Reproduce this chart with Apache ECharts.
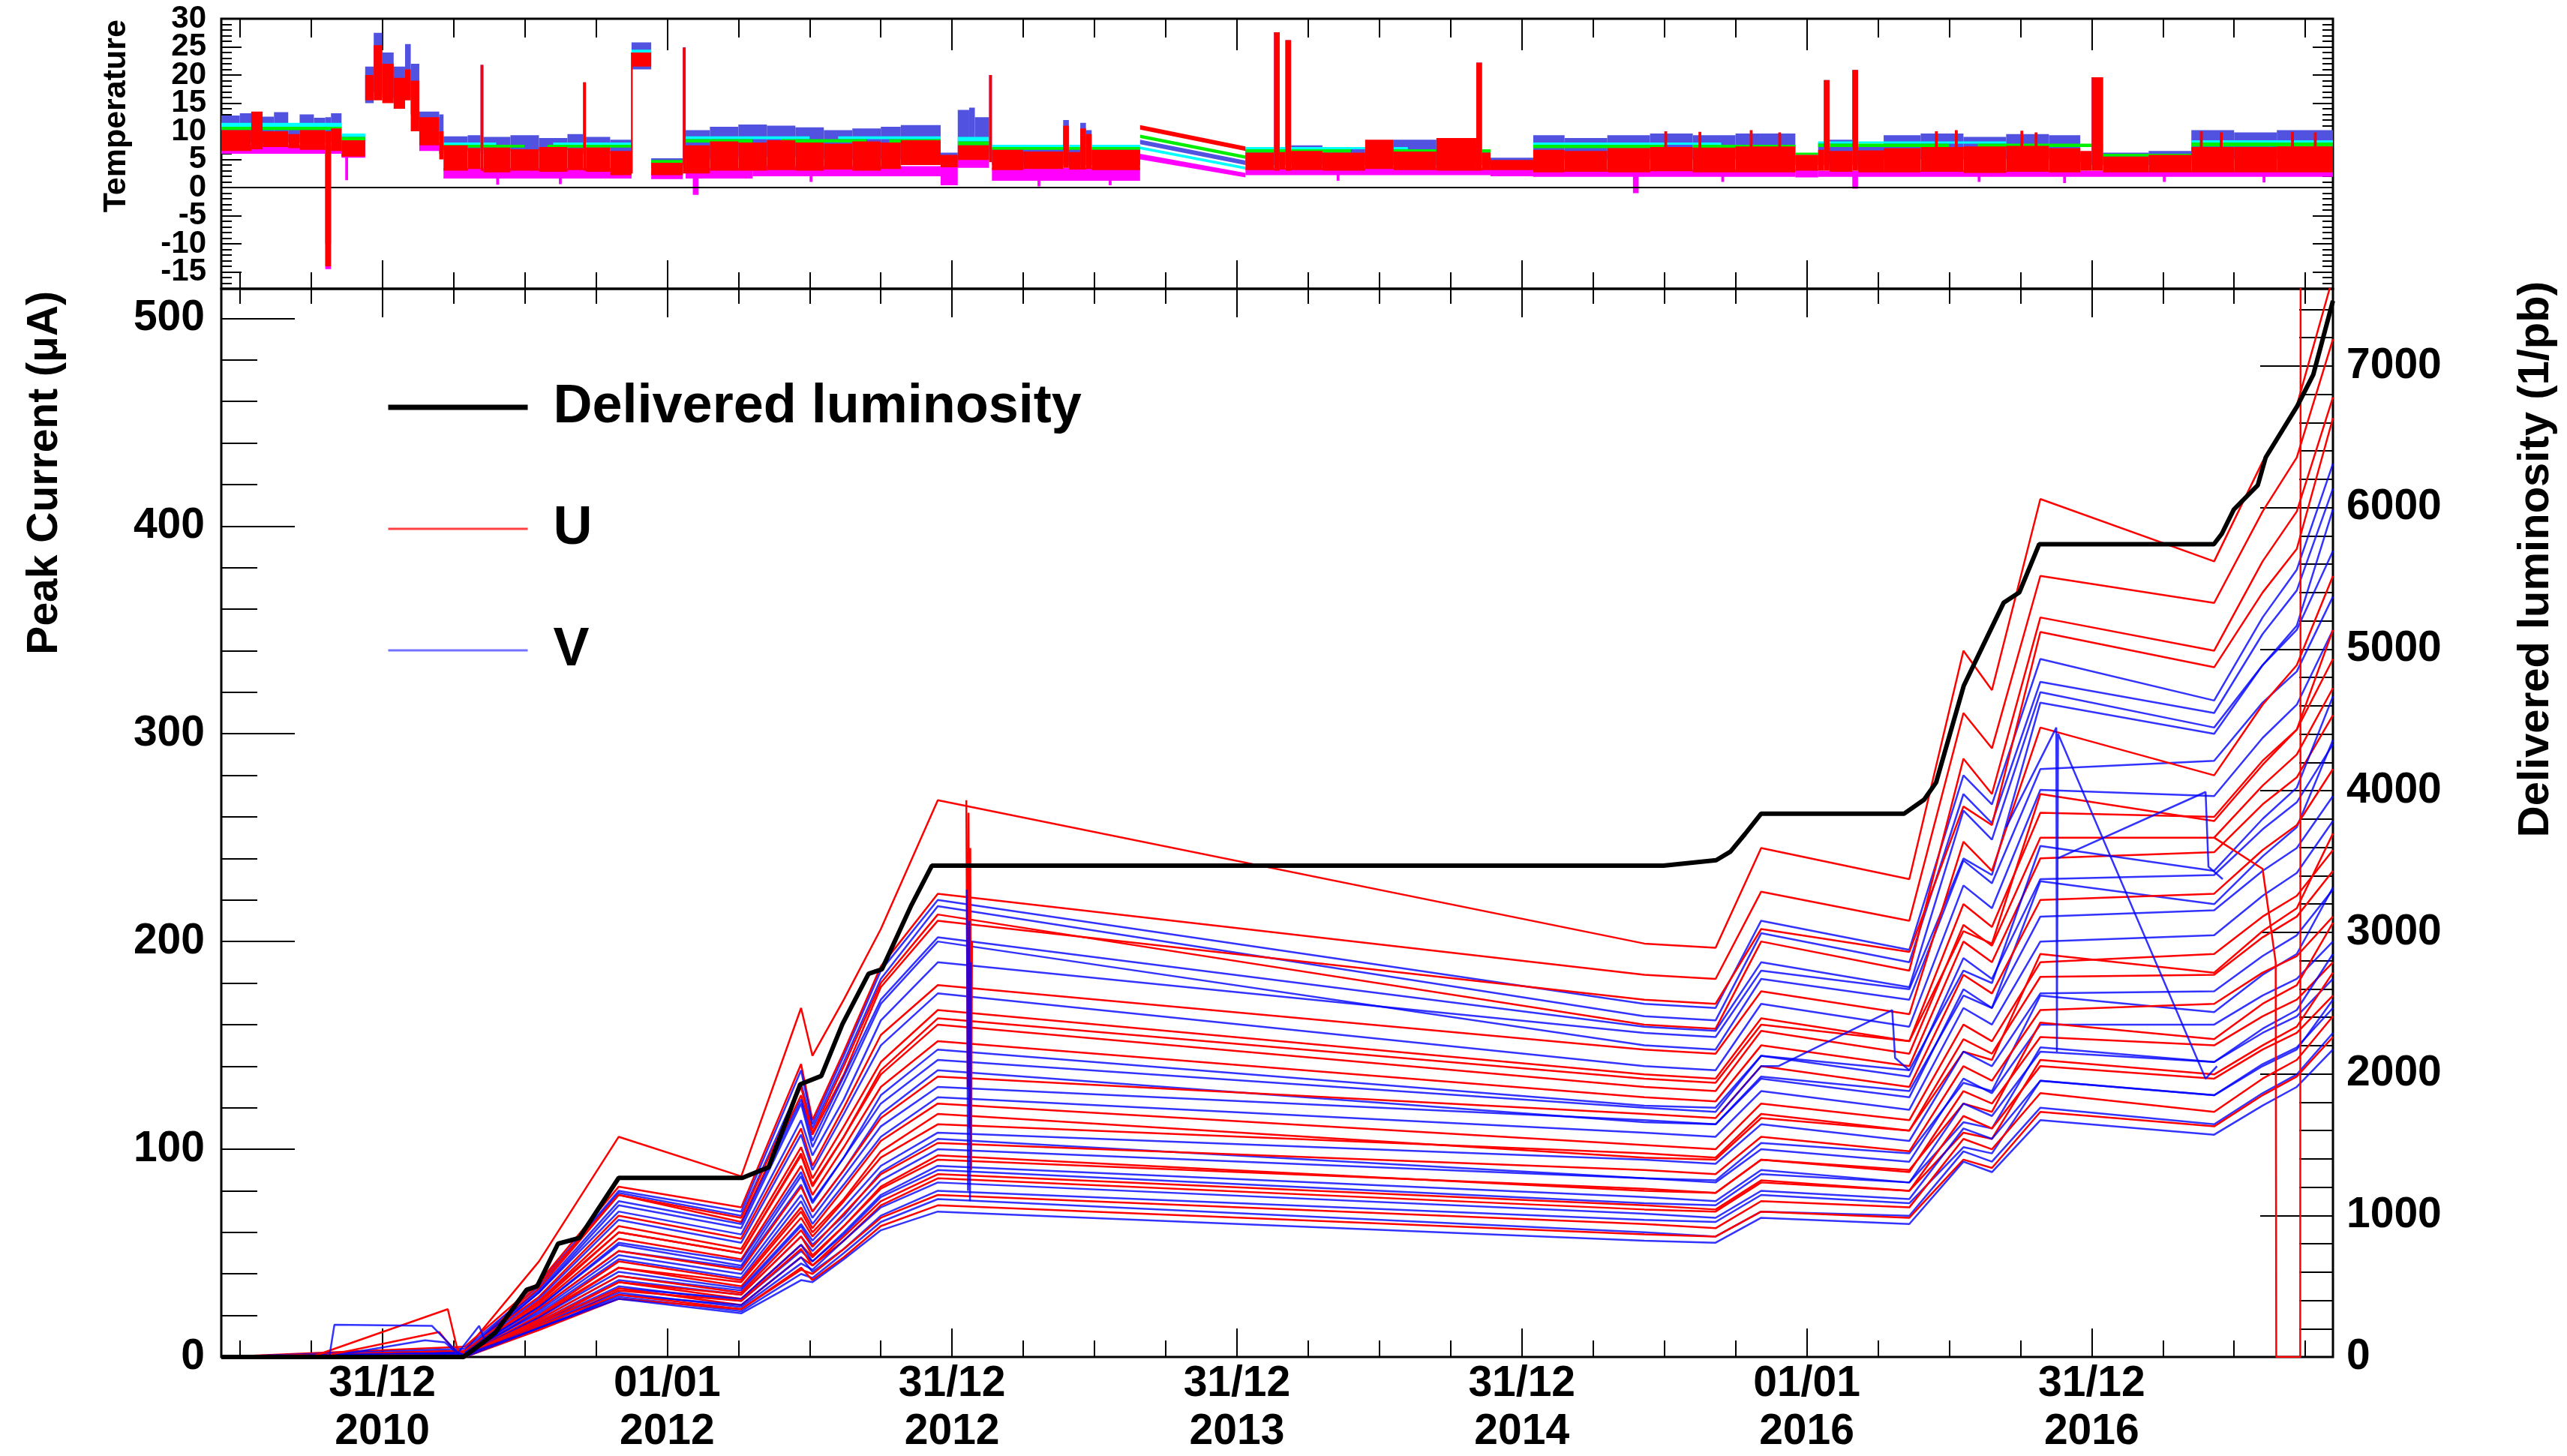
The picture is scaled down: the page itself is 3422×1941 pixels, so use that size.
<!DOCTYPE html>
<html><head><meta charset="utf-8">
<script src="https://cdn.jsdelivr.net/npm/echarts@6/dist/echarts.min.js"></script>
<style>html,body{margin:0;padding:0;background:#fff}#c{width:3422px;height:1941px}</style>
</head><body><div id="c"></div>
<script>
// ---------- axis data (x in years after 31/12/2010) ----------
const X_MIN = -0.565, X_MAX = 6.847;
const X_MAJOR = [0, 1, 2, 3, 4, 5, 6];
const X_LABELS = ['31/12\n2010', '01/01\n2012', '31/12\n2012', '31/12\n2013', '31/12\n2014', '01/01\n2016', '31/12\n2016'];
const PC_TICKS = [0, 100, 200, 300, 400, 500];
const LUMI_TICKS = [0, 1000, 2000, 3000, 4000, 5000, 6000, 7000];
const TEMP_TICKS = [-15, -10, -5, 0, 5, 10, 15, 20, 25, 30];
const TEMP_LABELS_A = [-15, -5, 5, 15, 25];
const TEMP_LABELS_B = [-10, 0, 10, 20, 30];
const PC_MAX = 514.2, LUMI_MAX = 7545, T_MIN = -18, T_MAX = 30;

// ---------- delivered luminosity (1/pb) ----------
const LUMI_X = [-0.565, 0.285, 0.359, 0.396, 0.507, 0.544, 0.617, 0.691, 0.830, 1.264, 1.356, 1.467, 1.541, 1.615, 1.707, 1.754, 1.855, 1.929, 4.497, 4.682, 4.732, 4.783, 4.840, 5.342, 5.412, 5.454, 5.551, 5.621, 5.691, 5.746, 5.816, 6.429, 6.457, 6.499, 6.583, 6.611, 6.722, 6.778, 6.847];
const LUMI_Y = [0, 0, 110, 170, 475, 500, 800, 840, 1265, 1265, 1340, 1926, 1985, 2350, 2707, 2739, 3182, 3470, 3470, 3509, 3569, 3693, 3838, 3838, 3937, 4058, 4741, 5034, 5327, 5400, 5741, 5741, 5815, 5986, 6157, 6354, 6718, 6939, 7460];

// ---------- peak current lines (uA) at common dates ----------
const T_ANCHOR = [-0.565, 0.29, 0.55, 0.83, 1.26, 1.47, 1.51, 1.62, 1.75, 1.95, 4.43, 4.68, 4.84, 5.36, 5.55, 5.65, 5.82, 6.43, 6.60, 6.72, 6.847];
const LINES = [
  ['U', [0,3,46,106,87,168,145,172,206,268,199,197,245,230,340,321,413,383,431,458,520]],
  ['U', [0,5,36,82,72,141,114,147,188,223,184,182,224,210,310,293,376,363,407,433,490]],
  ['V', [0,2,35,80,70,138,112,145,186,220,170,168,210,196,280,266,336,316,356,379,430]],
  ['V', [0,4,34,79,68,132,110,142,182,217,164,162,204,190,271,257,325,310,348,369,418]],
  ['U', [0,2,33,78,67,130,108,140,180,213,160,158,200,186,288,271,356,340,383,407,462]],
  ['U', [0,1,35,78,65,126,107,136,178,210,172,170,206,195,265,256,349,332,368,389,452]],
  ['V', [0,3,32,75,64,124,104,135,172,202,159,157,190,178,263,249,320,303,333,350,388]],
  ['V', [0,1,31,73,62,122,101,132,170,200,150,148,182,172,239,228,283,287,315,330,366]],
  ['V', [0,2,31,70,59,114,97,124,162,190,156,154,186,177,240,232,315,300,333,352,408]],
  ['U', [0,3,29,68,57,110,92,120,155,179,148,146,176,165,248,234,303,280,314,333,376]],
  ['V', [0,2,28,66,55,107,90,117,150,175,140,138,170,159,227,216,273,270,298,314,350]],
  ['U', [0,1,27,63,52,101,86,111,142,167,136,134,163,152,218,207,262,260,287,302,336]],
  ['U', [0,1,27,60,50,98,83,106,138,163,134,132,160,152,205,199,271,258,285,302,350]],
  ['U', [0,2,26,60,50,97,82,106,136,160,130,128,157,146,208,198,250,250,275,290,322]],
  ['U', [0,1,25,57,47,92,78,101,130,152,125,123,150,140,200,190,240,243,266,279,309]],
  ['V', [0,2,24,55,46,89,75,96,126,148,121,120,145,138,186,180,246,234,259,274,318]],
  ['V', [0,2,24,54,44,87,74,96,122,143,120,118,145,135,192,182,230,232,254,267,295]],
  ['V', [0,1,23,51,43,83,70,90,117,138,113,112,135,128,174,168,229,218,241,255,297]],
  ['U', [0,0,23,51,42,82,70,90,115,135,117,115,140,130,184,175,220,223,244,256,283]],
  ['V', [0,1,22,49,40,78,67,87,111,130,114,112,134,125,177,168,212,215,234,245,270]],
  ['V', [0,2,21,47,38,75,64,83,106,125,108,106,128,119,168,160,200,203,222,233,258]],
  ['U', [0,1,20,46,37,72,62,81,104,122,102,100,122,114,160,152,190,194,212,222,244]],
  ['U', [0,0,19,43,36,70,60,76,99,117,96,95,115,109,147,143,194,185,205,216,252]],
  ['U', [0,0,20,43,34,67,58,75,96,112,98,96,117,109,153,146,183,184,202,212,234]],
  ['V', [0,1,19,41,33,64,56,72,92,108,95,93,112,104,147,140,175,176,193,203,225]],
  ['V', [0,1,18,39,32,63,54,68,89,105,86,85,103,98,132,128,174,166,184,194,226]],
  ['U', [0,1,18,39,31,61,53,69,88,103,90,88,106,99,140,133,167,170,185,193,212]],
  ['V', [0,0,17,37,30,58,51,66,85,100,86,84,100,94,134,127,160,160,174,182,200]],
  ['U', [0,1,16,36,30,58,49,63,82,97,80,79,95,90,122,118,161,153,170,179,209]],
  ['U', [0,1,17,36,28,54,48,63,81,95,81,79,95,89,128,122,154,150,164,172,190]],
  ['V', [0,0,16,34,27,51,46,60,78,92,77,75,90,84,122,116,147,142,156,164,182]],
  ['V', [0,1,15,33,28,54,46,59,77,90,74,73,88,84,113,110,149,142,158,167,194]],
  ['U', [0,1,16,33,25,48,44,58,75,88,73,71,85,80,116,110,140,134,148,156,174]],
  ['U', [0,0,14,32,27,52,44,56,73,86,71,70,84,80,108,105,143,136,150,159,185]],
  ['V', [0,0,15,31,24,45,42,56,72,84,69,67,80,76,110,105,133,126,141,149,168]],
  ['V', [0,1,13,30,25,48,41,52,68,80,66,65,78,74,101,98,133,126,140,148,172]],
  ['U', [0,0,15,30,23,42,40,52,67,78,64,62,75,72,105,100,127,118,134,143,164]],
  ['V', [0,1,14,29,22,40,38,50,65,76,60,58,70,68,99,94,120,112,127,136,156]],
  ['U', [0,0,13,28,23,43,37,48,63,73,59,58,70,67,95,91,118,111,126,135,154]],
  ['V', [0,0,14,28,21,37,36,47,61,70,56,55,67,64,94,89,114,107,121,130,148]]
];
// irregular pieces of individual channels [year, uA]
const EXTRA = [
  ['U', [[-0.25, 0], [0.23, 23], [0.265, 3], [0.29, 2]]],
  ['U', [[-0.22, 0], [0.20, 12], [0.26, 2]]],
  ['V', [[-0.186, 0], [-0.168, 15.5], [0.174, 15], [0.266, 2], [0.34, 15], [0.36, 8]]],
  ['V', [[-0.20, 0], [0.15, 8], [0.22, 7], [0.27, 1]]],
  ['U', [[2.05, 268], [2.055, 130], [2.058, 262], [2.061, 110], [2.064, 245], [2.067, 90], [2.07, 200]]],
  ['V', [[2.052, 225], [2.056, 80], [2.06, 210], [2.063, 75], [2.066, 190]]],
  ['V', [[4.70, 118], [4.84, 140], [4.90, 140], [5.30, 167], [5.31, 144], [5.36, 138]]],
  ['V', [[5.70, 255], [5.876, 303], [5.878, 147], [5.882, 300], [6.40, 134], [6.44, 140]]],
  ['V', [[5.88, 240], [6.40, 272], [6.41, 236], [6.46, 230]]],
  ['U', [[6.43, 250], [6.60, 235], [6.646, 190], [6.648, 0], [6.732, 0], [6.734, 700]]]
];

// ---------- temperature bands [year0, year1, low, high] ----------
const TEMP_BLUE = [
  [-0.565,-0.50,8,12.8],[-0.50,-0.44,8,13.2],[-0.44,-0.38,8,12.6],[-0.38,-0.33,8,13.4],[-0.33,-0.29,8,11.0],
  [-0.29,-0.24,8,13.0],[-0.24,-0.20,8,12.4],[-0.20,-0.18,-10,12.5],[-0.18,-0.143,8,13.2],[-0.143,-0.06,6.5,9.3],
  [-0.06,-0.03,15,21.5],[-0.03,0.0,17,27.5],[0.0,0.04,16,24],[0.04,0.08,15,21.5],[0.08,0.10,16,25.5],
  [0.10,0.13,13,22],[0.13,0.20,8.5,13.5],[0.20,0.215,6,13],[0.215,0.30,6.7,9.1],[0.30,0.345,6.5,9.3],
  [0.345,0.355,6,21.8],[0.355,0.45,6.7,9.0],[0.45,0.55,6.5,9.3],[0.55,0.65,6.7,8.8],[0.65,0.705,6.6,9.5],
  [0.705,0.715,6,18.7],[0.715,0.80,6.7,9.0],[0.80,0.875,6,8.5],[0.875,0.944,21,25.8],[0.944,1.055,3.5,5.2],
  [1.055,1.065,4,24.9],[1.065,1.15,5,10.2],[1.15,1.25,5,10.8],[1.25,1.35,5.5,11.2],[1.35,1.45,5.5,11.0],
  [1.45,1.55,5.5,10.7],[1.55,1.65,5,10.2],[1.65,1.75,5,10.5],[1.75,1.82,5,10.8],[1.82,1.96,5,11.1],
  [1.96,2.02,4,6.2],[2.02,2.06,6,13.8],[2.06,2.08,6,14.2],[2.08,2.13,6,12.5],[2.13,2.14,5,20],
  [2.14,2.25,4,7.1],[2.25,2.39,4,6.8],[2.39,2.41,4,12],[2.41,2.45,4,7],[2.45,2.47,4,11.5],
  [2.47,2.49,4,10.2],[2.49,2.66,4,7],[3.03,3.13,4,6.7],[3.13,3.15,4,27.6],[3.15,3.17,4,7],
  [3.17,3.19,4,26.2],[3.19,3.30,4,7.5],[3.30,3.45,4,6.8],[3.45,3.55,4,7.2],[3.55,3.70,4,8.5],
  [3.70,3.84,4,7.7],[3.84,3.86,4,22.2],[3.86,3.89,4,6.5],[3.89,4.04,3.5,5.3],[4.04,4.15,5,9.3],
  [4.15,4.30,5,8.8],[4.30,4.45,5,9.3],[4.45,4.60,5,9.6],[4.60,4.75,5,9.3],[4.75,4.96,5,9.6],
  [4.96,5.04,4,5.8],[5.04,5.06,4,8],[5.06,5.08,4,19.1],[5.08,5.16,4,8.5],[5.16,5.18,4,20.9],
  [5.18,5.27,4,7.5],[5.27,5.40,5,9.3],[5.40,5.55,5,9.6],[5.55,5.70,5,9.0],[5.70,5.85,5,9.5],
  [5.85,5.96,5,9.3],[5.96,6.00,4.5,6.0],[6.00,6.04,4,19.6],[6.04,6.20,4,6.2],[6.20,6.35,4,6.5],
  [6.35,6.50,5,10.2],[6.50,6.65,5,9.8],[6.65,6.847,5,10.2]
];
const TEMP_RED = [
  [-0.565,-0.46,6.5,10.2],[-0.46,-0.42,6.8,13.5],[-0.42,-0.33,7.2,10],[-0.33,-0.29,7,9.5],[-0.29,-0.20,6.7,10.2],
  [-0.20,-0.18,-14,10],[-0.18,-0.143,6.5,10.5],[-0.143,-0.06,5.5,8.4],[-0.06,-0.03,15.5,20],[-0.03,0.0,15.5,25.3],
  [0.0,0.04,15,22],[0.04,0.08,14,19.5],[0.08,0.10,15.5,21],[0.10,0.13,10,19],[0.13,0.20,7.5,12.5],
  [0.20,0.215,5,10],[0.215,0.30,3,7.5],[0.30,0.345,3.3,7],[0.345,0.355,3,21.8],[0.355,0.45,2.7,7.1],
  [0.45,0.55,3,6.8],[0.55,0.65,2.8,7.2],[0.65,0.705,3.1,7.0],[0.705,0.715,3,18.7],[0.715,0.80,2.8,7.1],
  [0.80,0.875,2.2,6.5],[0.873,0.879,2.5,24],[0.875,0.944,21.5,24],[0.944,1.055,2.2,4.4],[1.055,1.065,2.5,24.9],
  [1.065,1.15,2.5,7.5],[1.15,1.25,3,8.2],[1.25,1.35,3,8.0],[1.35,1.45,3.1,8.4],[1.45,1.55,3,8.0],
  [1.55,1.65,3.2,7.8],[1.65,1.75,3,8.2],[1.75,1.82,3.3,8.0],[1.82,1.96,4,8.4],[1.96,2.02,3.6,5.8],
  [2.02,2.13,4.9,7.5],[2.13,2.14,4.5,20],[2.14,2.25,3.1,6.7],[2.25,2.39,3.3,6.4],[2.39,2.41,3.5,11],
  [2.41,2.45,3.2,6.3],[2.45,2.47,3.2,10.5],[2.47,2.49,3.3,9.5],[2.49,2.66,3.1,6.7],[3.03,3.13,3.1,6.2],
  [3.13,3.15,3,27.6],[3.15,3.17,3.2,6.3],[3.17,3.19,3,26.2],[3.19,3.30,3.1,6.5],[3.30,3.45,3,6.2],
  [3.45,3.55,3.3,8.5],[3.55,3.70,3.1,6.4],[3.70,3.84,3,8.8],[3.84,3.86,3,22.2],[3.86,3.89,3.1,6.2],
  [3.89,4.04,3.1,4.9],[4.04,4.15,2.7,6.7],[4.15,4.30,2.8,6.5],[4.30,4.45,2.7,7.0],[4.45,4.60,2.9,7.2],
  [4.60,4.75,2.7,7.1],[4.75,4.96,2.7,7.3],[4.96,5.04,3,5.8],[5.04,5.06,3,6.7],[5.06,5.08,3,19.1],
  [5.08,5.16,2.8,6.5],[5.16,5.18,3,20.9],[5.18,5.27,2.7,6.6],[5.27,5.40,2.7,7.0],[5.40,5.55,2.8,7.2],
  [5.55,5.70,2.6,7.3],[5.70,5.85,2.8,7.4],[5.85,5.96,2.7,7.0],[5.96,6.00,3,6.5],[6.00,6.04,3,19.6],
  [6.04,6.20,2.7,5.5],[6.20,6.35,2.7,5.8],[6.35,6.50,2.7,7.2],[6.50,6.65,2.7,7.2],[6.65,6.847,2.7,7.3],
  [4.50,4.51,3,10],[4.62,4.63,3,9.9],[4.80,4.81,3,10.2],[4.90,4.91,3,9.8],[5.45,5.46,3,10],
  [5.52,5.53,3,10.2],[5.75,5.76,3,10.1],[5.80,5.81,3,9.8],[6.38,6.39,3,10],[6.45,6.46,3,9.8],
  [6.70,6.71,3,9.9],[6.78,6.79,3,9.8]
];
const TEMP_MAGENTA = [
  [-0.565,-0.20,6,7.5],[-0.20,-0.18,-14.5,7],[-0.18,-0.143,6,7.5],[-0.143,-0.06,5.3,6.5],[-0.13,-0.12,1.3,6],
  [0.13,0.215,6.5,8],[0.215,0.875,1.6,3.5],[0.944,1.055,1.5,3],[1.065,1.30,1.6,3.5],[1.09,1.11,-1.3,2],
  [1.30,1.96,2.0,3.8],[1.96,2.02,0.4,4],[2.02,2.13,3.5,5.5],[2.14,2.66,1.2,3.5],[3.03,3.89,2.2,3.5],
  [3.89,4.04,2.0,3.5],[4.04,4.96,1.9,3.2],[4.39,4.41,-1,2],[4.96,5.04,1.8,3.2],[5.04,6.847,1.9,3.0],
  [5.16,5.18,-0.2,2],[0.40,0.41,0.5,2],[0.62,0.63,0.6,2],[1.50,1.51,1.0,2.5],[2.30,2.31,0.2,2],
  [2.55,2.56,0.4,2],[3.35,3.36,1.2,2.5],[4.70,4.71,1.0,2.5],[5.60,5.61,1.0,2.5],[5.90,5.91,0.8,2.5],
  [6.25,6.26,1.0,2.5],[6.60,6.61,0.9,2.5]
];
const TEMP_GREEN = [
  [-0.565,-0.143,10.2,10.8],[-0.143,-0.06,8.4,9.0],[0.215,0.50,7.1,7.6],[0.58,0.875,7.1,7.6],[0.944,1.055,4.4,4.9],
  [1.065,1.30,8.0,8.6],[1.40,1.70,8.0,8.6],[1.78,1.96,8.0,8.6],[2.02,2.13,7.5,8.2],[2.14,2.66,6.7,7.2],
  [3.03,3.40,6.2,6.8],[3.48,3.89,6.2,6.8],[4.04,4.50,7.0,7.6],[4.60,4.96,7.0,7.6],[4.96,5.04,5.8,6.2],
  [5.04,5.50,7.2,7.8],[5.60,6.04,7.2,7.8],[6.04,6.35,5.5,6.0],[6.35,6.847,7.3,8.0]
];
const TEMP_CYAN = [
  [-0.565,-0.143,10.8,11.5],[-0.143,-0.06,9.0,9.6],[0.215,0.40,7.6,8.0],[0.60,0.875,7.6,8.0],[0.875,0.944,23,24.5],
  [1.065,1.50,8.6,9.1],[1.60,1.96,8.6,9.1],[2.02,2.13,8.2,9.0],[2.14,2.66,7.2,7.6],[3.03,3.60,6.8,7.2],
  [4.04,4.70,7.6,8.0],[5.04,5.70,7.8,8.2],[6.35,6.847,8.0,8.4]
];
// sloped section [year0, year1, low0, high0, low1, high1]
const SLOPE_RED = [[2.66, 3.03, 10.3, 11.1, 6.5, 7.3]];
const SLOPE_GREEN = [[2.66, 3.03, 8.8, 9.4, 5.1, 5.7]];
const SLOPE_BLUE = [[2.66, 3.03, 7.7, 8.5, 4.0, 4.8]];
const SLOPE_CYAN = [[2.66, 3.03, 6.8, 7.3, 3.2, 3.7]];
const SLOPE_MAGENTA = [[2.66, 3.03, 5.0, 6.0, 1.8, 2.6]];

// ---------- chart ----------
const FONT = "'Liberation Sans', Arial, Helvetica, sans-serif";
const RED = '#ff0000', BLUE = 'rgba(0,0,255,0.8)';
const X_MINOR = [];
for (let k = -2; k <= 27; k++) { if (k % 4 !== 0) X_MINOR.push(k / 4); }
const T_MINOR = [];
for (let v = T_MIN; v <= T_MAX; v++) { if (v % 5 !== 0) T_MINOR.push(v); }
const PC_MINOR = [];
for (let v = 20; v < PC_MAX; v += 20) { if (v % 100 !== 0) PC_MINOR.push(v); }
const LUMI_MINOR = [];
for (let v = 200; v < LUMI_MAX; v += 200) { if (v % 1000 !== 0) LUMI_MINOR.push(v); }

const tickLS = { color: '#000', width: 2 };
function xAx(grid, pos, vals, len, withLabels) {
  return {
    type: 'value', gridIndex: grid, position: pos, min: X_MIN, max: X_MAX,
    axisLine: { show: false, onZero: false }, splitLine: { show: false },
    axisTick: { show: true, inside: true, length: len, customValues: vals, lineStyle: tickLS },
    axisLabel: withLabels ? {
      show: true, customValues: X_MAJOR, margin: 4, showMinLabel: true, showMaxLabel: true, hideOverlap: false,
      formatter: v => X_LABELS[X_MAJOR.indexOf(Math.round(v))] || '',
      fontFamily: FONT, fontWeight: 'bold', fontSize: 57, lineHeight: 64, color: '#000'
    } : { show: false }
  };
}
function yAx(grid, pos, min, max, vals, len, labelVals, labelOpt) {
  return {
    type: 'value', gridIndex: grid, position: pos, min, max,
    axisLine: { show: false, onZero: false }, splitLine: { show: false },
    axisTick: { show: true, inside: true, length: len, customValues: vals, lineStyle: tickLS },
    axisLabel: labelVals ? Object.assign({
      show: true, customValues: labelVals, color: '#000', fontFamily: FONT, fontWeight: 'bold',
      showMinLabel: true, showMaxLabel: true, hideOverlap: false, formatter: v => String(v)
    }, labelOpt) : { show: false }
  };
}

const xAxis = [
  xAx(1, 'bottom', X_MAJOR, 38, true),
  xAx(1, 'bottom', X_MINOR, 22, false),
  xAx(1, 'top', X_MAJOR, 38, false),
  xAx(1, 'top', X_MINOR, 20, false),
  xAx(0, 'bottom', X_MAJOR, 38, false),
  xAx(0, 'bottom', X_MINOR, 22, false),
  xAx(0, 'top', X_MAJOR, 42, false),
  xAx(0, 'top', X_MINOR, 25, false)
];
const yAxis = [
  yAx(1, 'left', 0, PC_MAX, PC_TICKS, 98, PC_TICKS, { fontSize: 57, margin: 22 }),
  yAx(1, 'right', 0, LUMI_MAX, LUMI_TICKS, 97, LUMI_TICKS, { fontSize: 57, margin: 18 }),
  yAx(1, 'left', 0, PC_MAX, PC_MINOR, 48, null),
  yAx(1, 'right', 0, LUMI_MAX, LUMI_MINOR, 45, null),
  yAx(0, 'left', T_MIN, T_MAX, TEMP_TICKS, 27, TEMP_LABELS_A, { fontSize: 42, margin: 20 }),
  yAx(0, 'left', T_MIN, T_MAX, T_MINOR, 14, TEMP_LABELS_B, { fontSize: 42, margin: 20 }),
  yAx(0, 'right', T_MIN, T_MAX, TEMP_TICKS, 27, null),
  yAx(0, 'right', T_MIN, T_MAX, T_MINOR, 14, null)
];

const series = [];
function band(data, color, z) {
  series.push({
    type: 'custom', xAxisIndex: 4, yAxisIndex: 4, data, z, silent: true, clip: true,
    renderItem: (params, api) => {
      const p0 = api.coord([api.value(0), api.value(3)]);
      const p1 = api.coord([api.value(1), api.value(2)]);
      return { type: 'rect', shape: { x: p0[0], y: p0[1], width: Math.max(1.5, p1[0] - p0[0]), height: p1[1] - p0[1] }, style: { fill: color } };
    }
  });
}
function slope(data, color, z) {
  series.push({
    type: 'custom', xAxisIndex: 4, yAxisIndex: 4, data, z, silent: true, clip: true,
    renderItem: (params, api) => {
      const a = api.coord([api.value(0), api.value(3)]);
      const b = api.coord([api.value(1), api.value(5)]);
      const c = api.coord([api.value(1), api.value(4)]);
      const d = api.coord([api.value(0), api.value(2)]);
      return { type: 'polygon', shape: { points: [a, b, c, d] }, style: { fill: color } };
    }
  });
}
const TBLUE = '#5252e0', TRED = '#ff0000', TMAG = '#ff00ff', TGREEN = '#00ee00', TCYAN = '#00ffff';
band(TEMP_BLUE, TBLUE, 1); slope(SLOPE_BLUE, TBLUE, 1);
band(TEMP_CYAN, TCYAN, 2); slope(SLOPE_CYAN, TCYAN, 2);
band(TEMP_GREEN, TGREEN, 3); slope(SLOPE_GREEN, TGREEN, 3);
band(TEMP_MAGENTA, TMAG, 4); slope(SLOPE_MAGENTA, TMAG, 4);
band(TEMP_RED, TRED, 5); slope(SLOPE_RED, TRED, 5);
series.push({
  type: 'line', xAxisIndex: 4, yAxisIndex: 4, data: [], silent: true, z: 6,
  markLine: { silent: true, symbol: 'none', label: { show: false }, lineStyle: { color: '#000', width: 2, type: 'solid' }, data: [{ yAxis: 0 }] }
});

LINES.forEach(([name, vals]) => {
  const col = name === 'U' ? RED : BLUE;
  series.push({
    type: 'line', name, xAxisIndex: 0, yAxisIndex: 0, color: col, symbol: 'none', silent: true, z: 2,
    lineStyle: { width: 2.5, color: col },
    data: T_ANCHOR.map((t, i) => [t, vals[i]])
  });
});
EXTRA.forEach(([name, pts]) => {
  const col = name === 'U' ? RED : BLUE;
  series.push({
    type: 'line', name, xAxisIndex: 0, yAxisIndex: 0, color: col, symbol: 'none', silent: true, z: 2,
    lineStyle: { width: 2.5, color: col }, data: pts
  });
});
series.push({
  type: 'line', name: 'Delivered luminosity', xAxisIndex: 0, yAxisIndex: 1, color: '#000', symbol: 'none', silent: true, z: 8,
  lineStyle: { width: 6, color: '#000' },
  data: LUMI_X.map((x, i) => [x, LUMI_Y[i]])
});

const chart = echarts.init(document.getElementById('c'), null, { renderer: 'canvas' });
chart.setOption({
  animation: false,
  backgroundColor: '#fff',
  grid: [
    { left: 295, top: 25, width: 2815, height: 360, show: true, borderColor: '#000', borderWidth: 3, backgroundColor: 'transparent', containLabel: false },
    { left: 295, top: 385, width: 2815, height: 1431, show: true, borderColor: '#000', borderWidth: 3, backgroundColor: 'transparent', containLabel: false }
  ],
  xAxis, yAxis, series,
  legend: {
    orient: 'vertical', left: 509, top: 502, itemWidth: 186, itemHeight: 20, itemGap: 90,
    selectedMode: false,
    itemStyle: { opacity: 0 },
    data: [
      { name: 'Delivered luminosity', lineStyle: { width: 7, color: '#000' } },
      { name: 'U', lineStyle: { width: 3, color: '#ff4040' } },
      { name: 'V', lineStyle: { width: 3, color: '#7373ff' } }
    ],
    formatter: n => '{a|' + n + '}',
    textStyle: { rich: { a: { fontFamily: FONT, fontWeight: 'bold', fontSize: 72, lineHeight: 80, color: '#000', padding: [0, 0, 0, 29] } } }
  },
  graphic: [
    { type: 'text', x: 60, y: 388, rotation: Math.PI / 2, style: { text: 'Peak Current (μA)', fontFamily: FONT, fontWeight: 'bold', fontSize: 57, fill: '#000', align: 'right', verticalAlign: 'middle' } },
    { type: 'text', x: 3381, y: 375, rotation: Math.PI / 2, style: { text: 'Delivered luminosity (1/pb)', fontFamily: FONT, fontWeight: 'bold', fontSize: 58, fill: '#000', align: 'right', verticalAlign: 'middle' } },
    { type: 'text', x: 155, y: 26, rotation: Math.PI / 2, style: { text: 'Temperature', fontFamily: FONT, fontWeight: 'bold', fontSize: 43, fill: '#000', align: 'right', verticalAlign: 'middle' } }
  ]
});
</script></body></html>
